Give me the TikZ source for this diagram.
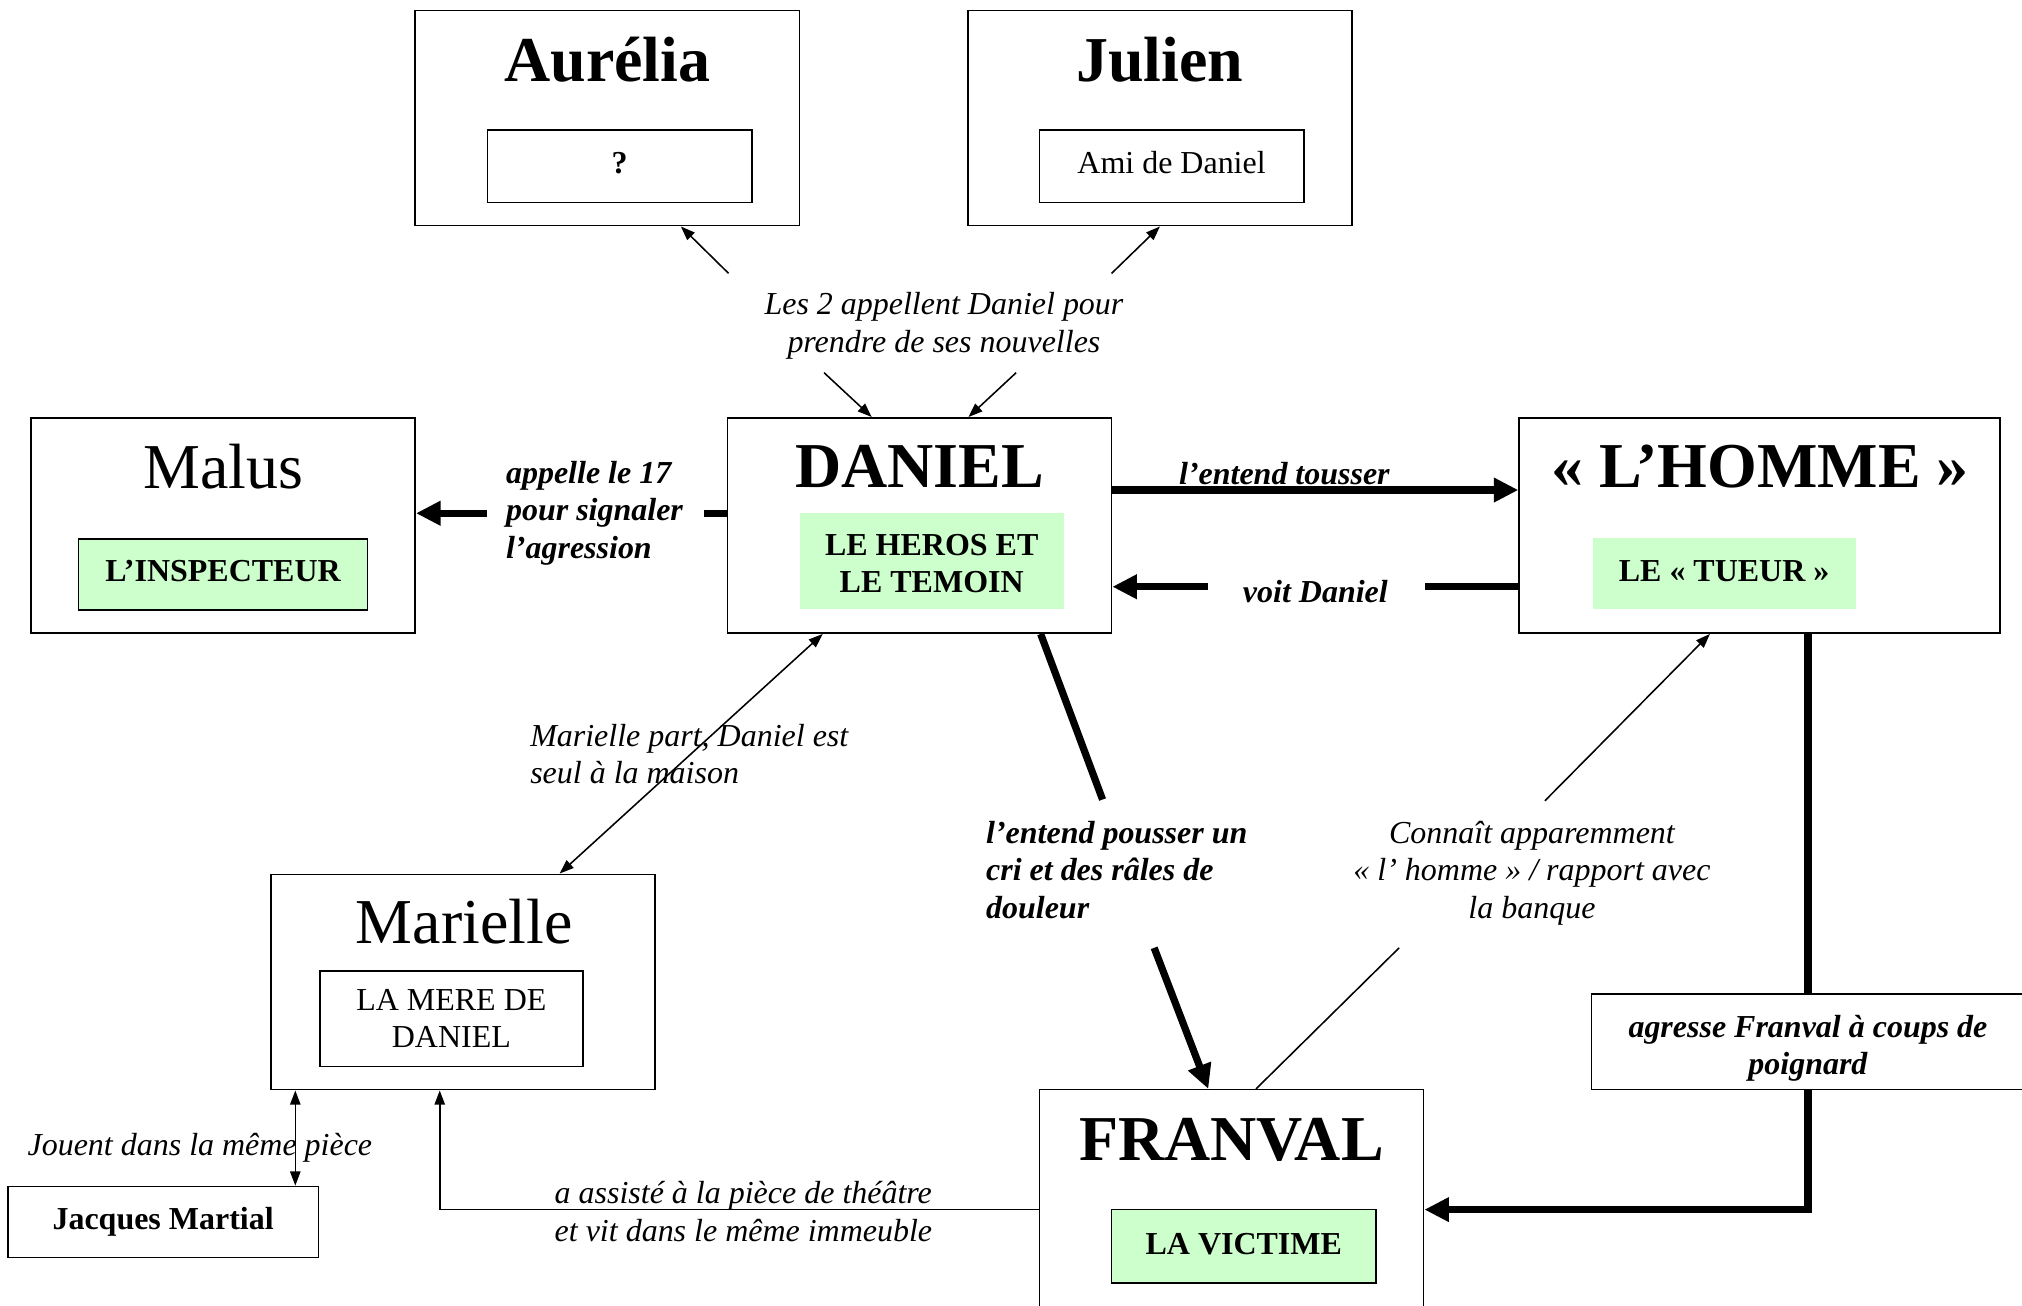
\documentclass[tikz,border=0pt]{standalone}
\usepackage{fontspec}
\setmainfont{Liberation Serif}
\usetikzlibrary{arrows.meta,calc}
\definecolor{lgreen}{HTML}{CCFFCC}
\tikzset{
 box/.style={draw, line width=0.6pt, minimum width=149pt, minimum height=83.5pt, inner sep=0pt},
 inbox/.style={draw, line width=0.6pt, inner sep=0pt, align=center, font=\fontsize{12.4}{14.5}\selectfont},
 greenbox/.style={fill=lgreen, inner sep=0pt, align=center, font=\bfseries\fontsize{12.4}{14.5}\selectfont},
 titletxt/.style={font=\bfseries\fontsize{24.8}{28}\selectfont, inner sep=0pt, anchor=base},
 rtitletxt/.style={font=\fontsize{24.8}{28}\selectfont, inner sep=0pt, anchor=base},
 lab/.style={font=\itshape\fontsize{12.4}{14.5}\selectfont, inner sep=0pt},
 blab/.style={font=\bfseries\itshape\fontsize{12.4}{14.5}\selectfont, inner sep=0pt},
 btxt/.style={font=\bfseries\fontsize{12.4}{14.5}\selectfont, inner sep=0pt},
 thinline/.style={line width=0.6pt},
 thinarrow/.style={line width=0.6pt, -{Triangle[length=5.5pt,width=4pt]}},
 thindouble/.style={line width=0.6pt, {Triangle[length=5.5pt,width=4pt]}-{Triangle[length=5.5pt,width=4pt]}},
 thickline/.style={line width=2.8pt},
 thickarrow/.style={line width=2.8pt, -{Triangle[length=9.5pt,width=9pt]}},
}
\begin{document}
\begin{tikzpicture}[x=0.5pt,y=-0.5pt]
\useasboundingbox (0,0) rectangle (1568,1012);
\clip (0,0) rectangle (1568,1012);
\fill[white] (0,0) rectangle (1568,1012);

% main boxes
\node[box] (aur) at (471,91.5) {};
\node[box] (jul) at (899.5,91.5) {};
\node[box] (mal) at (173,407.5) {};
\node[box] (dan) at (713,407.5) {};
\node[box, minimum width=186.5pt] (hom) at (1364.5,407.5) {};
\node[box] (mar) at (359,761.5) {};
\node[box, minimum height=92.5pt] (fra) at (955,937.5) {};

% titles
\node[titletxt] (aurt) at (471,63) {Aurélia};
\node[titletxt] (jult) at (899.5,63) {Julien};
\node[rtitletxt] (malt) at (173,379) {Malus};
\node[titletxt] (dant) at (713,378) {DANIEL};
\node[titletxt] (homt) at (1365,378) {« L’HOMME »};
\node[rtitletxt] (mart) at (360,732) {Marielle};
\node[titletxt] (frat) at (955,900) {FRANVAL};

% inner boxes
\node[inbox, font=\bfseries\fontsize{12.4}{14.5}\selectfont, text depth=3pt, minimum width=102.5pt, minimum height=28pt] (aurin) at (480.5,129) {?};
\node[inbox, text depth=3pt, minimum width=102.5pt, minimum height=28pt] (julin) at (908.5,129) {Ami de Daniel};
\node[greenbox, draw, line width=0.6pt, text depth=3pt, minimum width=112pt, minimum height=27.5pt] (malin) at (173,445.5) {L’INSPECTEUR};
\node[greenbox, minimum width=102.5pt, minimum height=37pt] (danin) at (722.5,435) {};
\node[btxt, align=center] (danint) at (722.5,437) {LE HEROS ET\\LE TEMOIN};
\node[greenbox, text depth=2pt, minimum width=102pt, minimum height=27.5pt] (homin) at (1337,444.5) {LE « TUEUR »};
\node[inbox, minimum width=102pt, minimum height=37pt] (marin) at (350,790) {LA MERE DE\\DANIEL};
\node[greenbox, draw, line width=0.6pt, text depth=2pt, minimum width=102.5pt, minimum height=28.5pt] (frain) at (964.5,966.5) {LA VICTIME};
\node[inbox, minimum width=168pt, minimum height=37pt] (agr) at (1402,808) {};
\node[blab, align=center] (agrt) at (1402,813) {agresse Franval à coups de\\poignard};
\node[inbox, font=\bfseries\fontsize{12.4}{14.5}\selectfont, minimum width=120.5pt, minimum height=27.5pt] (jac) at (126.5,947.5) {Jacques Martial};

% labels
\node[lab, align=center] (l1) at (732,252.5) {Les 2 appellent Daniel pour\\prendre de ses nouvelles};
\node[blab, align=left] (l2) at (461,398) {appelle le 17\\pour signaler\\l’agression};
\node[blab] (l3) at (996,367) {l’entend tousser};
\node[blab] (l4) at (1020,459) {voit Daniel};
\node[lab, align=left] (l5) at (534.5,585) {Marielle part, Daniel est\\seul à la maison};
\node[blab, align=left] (l6) at (866,674.5) {l’entend pousser un\\cri et des râles de\\douleur};
\node[lab, align=center] (l7) at (1188,677) {Connaît apparemment\\« l’ homme » / rapport avec\\la banque};
\node[lab] (l8) at (155,890) {Jouent dans la même pièce};
\node[lab, align=left] (l9) at (576.5,939.5) {a assisté à la pièce de théâtre\\et vit dans le même immeuble};

% coordinates
\coordinate (p1) at (565,212);
\coordinate (p2) at (862,212);
\coordinate (p3) at (639,289);
\coordinate (p4) at (788,289);
\coordinate (q1) at (546,398);
\coordinate (q2) at (378,398);
\coordinate (y380) at (0,380);
\coordinate (r1) at (1105,455);
\coordinate (r2) at (937,455);
\coordinate (s1) at (855,620);
\coordinate (s2) at (895,735);
\coordinate (t1) at (1085,735);
\coordinate (t2) at (1198,621);
\coordinate (u1) at (0,938);
\coordinate (x229) at (229,0);
\coordinate (x341) at (341,0);

% connectors
\draw[thinarrow] (p1) -- ([xshift=28.5pt]aur.south);
\draw[thinarrow] (p2) -- (jul.south);
\draw[thinarrow] (p3) -- ([xshift=-18.5pt]dan.north);
\draw[thinarrow] (p4) -- ([xshift=19pt]dan.north);

\draw[thickline] (dan.west |- q1) -- (q1);
\draw[thickarrow] (q2) -- (mal.east |- q2);

\draw[thickarrow] (dan.east |- y380) -- (hom.west |- y380);

\draw[thickline] (hom.west |- r1) -- (r1);
\draw[thickarrow] (r2) -- (dan.east |- r2);

\draw[thindouble] ([xshift=-37.5pt]dan.south) -- ([xshift=37.5pt]mar.north);

\draw[thickline] ([xshift=47pt]dan.south) -- (s1);
\draw[thickarrow] (s2) -- ([xshift=-9pt]fra.north);

\draw[thinline] ([xshift=9.5pt]fra.north) -- (t1);
\draw[thinarrow] (t2) -- ([xshift=-19.25pt]hom.south);

\draw[thickline] (hom.south -| agr.north) -- (agr.north);
\draw[thickarrow] (agr.south) |- (fra.east |- u1);

\draw[thindouble] (mar.south -| x229) -- (jac.north -| x229);

\draw[thinarrow] (fra.west |- u1) -| (mar.south -| x341);
\end{tikzpicture}
\end{document}
